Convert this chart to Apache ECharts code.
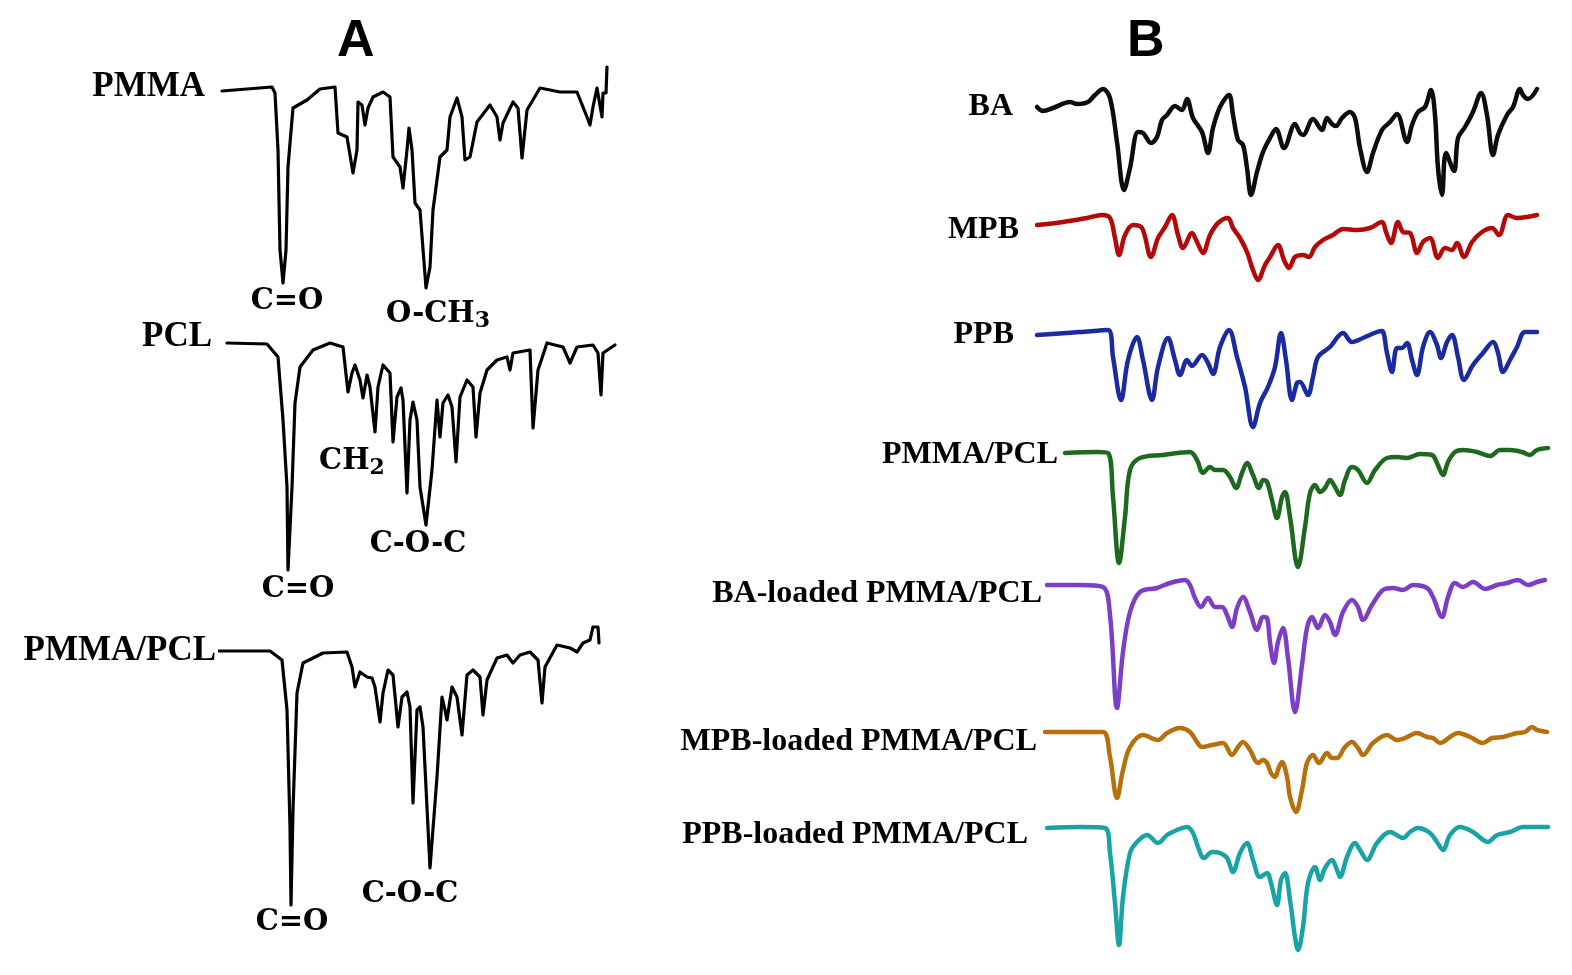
<!DOCTYPE html>
<html>
<head>
<meta charset="utf-8">
<script src="https://cdn.jsdelivr.net/npm/echarts@6/dist/echarts.min.js"></script>
<style>html,body{margin:0;padding:0;background:#fff}#c{width:1572px;height:975px}</style>
</head>
<body>
<div id="c"></div>
<script>
// ---------- DATA (relative position along the spectrum, relative transmittance) ----------
const namesA = ['PMMA', 'PCL', 'PMMA/PCL'];
const namesB = ['BA', 'MPB', 'PPB', 'PMMA/PCL', 'BA-loaded PMMA/PCL', 'MPB-loaded PMMA/PCL', 'PPB-loaded PMMA/PCL'];

const pmmaA = [[2,199],[52,203],[55,197],[58,140],[60,40],[63,7],[66,40],[68,123],[73,182],[87,190],[100,201],[115,203],[117,202],[118,157],[127,153],[133,117],[137,140],[138,188],[142,185],[145,165],[148,182],[153,193],[163,198],[170,193],[173,133],[180,123],[183,102],[187,140],[189,162],[192,140],[195,87],[200,80],[206,2],[210,23],[213,80],[220,133],[227,140],[230,173],[237,192],[242,173],[245,130],[250,133],[257,168],[270,185],[277,173],[280,150],[283,167],[293,188],[298,182],[302,132],[307,180],[320,202],[340,198],[357,198],[367,173],[370,165],[373,183],[377,202],[382,173],[383,197],[386,197],[387,223]];
const pclA = [[7,232],[47,231],[58,218],[63,155],[67,88],[68,5],[72,88],[75,172],[80,208],[93,225],[110,232],[123,228],[128,183],[132,202],[135,210],[140,195],[143,177],[147,200],[150,188],[155,143],[158,188],[163,210],[170,202],[173,133],[177,178],[181,187],[183,175],[187,82],[190,155],[193,173],[197,155],[200,88],[206,50],[212,105],[217,175],[220,138],[223,172],[228,180],[232,168],[236,113],[240,178],[247,195],[253,188],[256,138],[260,182],[267,205],[277,215],[287,218],[290,205],[293,222],[310,225],[313,147],[318,205],[327,232],[343,228],[350,212],[357,228],[373,230],[378,222],[381,180],[383,222],[395,230]];
const blendA = [[-2,259],[50,259],[62,250],[67,200],[70,83],[71,5],[73,100],[77,217],[83,247],[103,257],[127,258],[132,243],[135,223],[140,238],[147,233],[152,232],[155,223],[160,188],[163,217],[168,240],[173,235],[178,183],[182,213],[187,218],[190,203],[193,107],[197,200],[200,203],[203,183],[210,42],[217,133],[222,213],[225,200],[227,190],[232,223],[237,213],[242,175],[247,235],[253,240],[260,233],[263,195],[267,230],[277,252],[287,255],[293,247],[300,255],[310,258],[318,250],[322,207],[325,243],[337,265],[350,262],[357,258],[363,267],[370,270],[373,283],[378,283],[379,267]];

const baB = [[7,93],[13,89],[23,92],[40,98],[47,96],[58,98],[65,105],[73,111],[80,102],[87,58],[94,10],[100,32],[108,68],[113,67],[121,57],[127,63],[132,80],[137,85],[145,94],[152,90],[157,101],[163,82],[172,68],[178,47],[183,72],[190,93],[199,105],[203,85],[208,60],[213,55],[217,32],[221,5],[227,28],[233,48],[240,62],[246,71],[254,52],[265,76],[270,67],[273,65],[283,81],[292,70],[297,82],[302,76],[306,74],[312,82],[320,88],[325,82],[330,52],[337,28],[343,47],[352,70],[360,78],[367,86],[377,58],[382,75],[388,88],[395,93],[401,110],[405,85],[408,32],[412,5],[416,47],[424,29],[428,62],[435,73],[443,88],[451,107],[457,85],[463,45],[468,65],[477,85],[483,93],[490,111],[493,105],[498,101],[507,111]];
const mpbB = [[7,60],[33,63],[57,67],[72,70],[80,67],[85,47],[89,30],[95,50],[103,60],[112,57],[121,28],[128,47],[135,58],[142,70],[148,50],[153,37],[162,52],[167,43],[173,32],[180,50],[188,62],[198,67],[203,57],[210,47],[217,33],[223,15],[228,5],[235,20],[240,28],[248,40],[254,25],[259,17],[265,28],[273,30],[279,28],[285,38],[293,45],[303,50],[313,56],[327,55],[340,57],[352,63],[356,53],[361,42],[368,63],[373,53],[380,52],[387,32],[393,43],[400,47],[408,27],[415,37],[422,35],[427,42],[434,28],[442,43],[452,53],[462,57],[469,50],[478,70],[487,67],[497,68],[507,70]];
const ppbB = [[7,95],[50,98],[78,100],[83,73],[91,30],[98,70],[107,93],[113,70],[122,30],[128,63],[138,92],[145,70],[150,55],[157,70],[162,64],[172,75],[178,67],[183,56],[190,83],[199,100],[207,73],[215,43],[223,3],[230,27],[238,43],[245,63],[251,97],[256,70],[262,30],[267,47],[270,48],[278,35],[283,53],[288,73],[300,83],[313,97],[322,88],[333,92],[347,98],[352,99],[357,77],[362,58],[367,82],[372,82],[377,87],[382,70],[387,55],[393,83],[400,98],[407,85],[411,72],[417,88],[422,95],[428,73],[434,50],[443,65],[453,77],[463,88],[468,77],[473,58],[480,70],[487,83],[495,98],[507,98]];
const blendB = [[35,117],[67,118],[78,117],[83,73],[89,7],[95,53],[100,100],[110,112],[133,115],[160,118],[167,110],[173,97],[180,103],[185,100],[193,100],[200,93],[206,82],[212,97],[217,107],[223,95],[229,82],[233,90],[237,88],[242,70],[247,52],[252,73],[255,78],[260,53],[268,3],[275,43],[280,77],[285,85],[290,78],[295,82],[300,90],[305,83],[310,75],[315,90],[322,103],[328,100],[337,87],[345,100],[357,112],[367,113],[377,112],[390,116],[402,115],[407,107],[413,95],[418,108],[425,118],[433,120],[447,118],[460,114],[470,120],[480,120],[492,118],[500,115],[507,120],[518,122]];
const baLoadedB = [[17,130],[50,130],[73,128],[80,100],[87,7],[93,63],[100,103],[110,123],[127,127],[140,132],[155,135],[160,130],[165,117],[171,108],[178,117],[185,108],[192,108],[197,100],[202,88],[207,107],[213,118],[220,103],[227,85],[233,98],[237,97],[240,73],[244,52],[248,73],[253,87],[258,57],[265,3],[272,50],[277,87],[282,98],[288,87],[295,100],[300,93],[305,80],[313,103],[322,115],[328,108],[333,95],[342,110],[353,125],[363,127],[373,125],[383,130],[397,127],[403,118],[412,98],[418,118],[425,132],[433,128],[443,133],[455,126],[467,130],[477,132],[488,135],[498,130],[507,133],[515,135]];
const mpbLoadedB = [[15,83],[50,83],[73,83],[80,58],[87,17],[93,45],[100,68],[113,80],[128,75],[137,82],[150,87],[160,83],[167,73],[172,68],[182,70],[193,72],[202,60],[208,68],[213,73],[220,65],[228,52],[233,55],[237,52],[241,42],[245,38],[249,48],[252,53],[257,38],[260,18],[266,3],[272,25],[277,52],[283,60],[289,52],[297,62],[302,57],[307,57],[315,68],[322,73],[328,67],[333,60],[343,72],[357,80],[367,75],[375,77],[387,82],[397,78],[403,77],[410,72],[420,78],[428,82],[440,78],[453,72],[462,77],[473,78],[487,82],[495,83],[502,88],[507,85],[517,83]];
const ppbLoadedB = [[17,127],[50,128],[75,127],[80,102],[85,52],[89,10],[93,58],[100,102],[107,113],[117,120],[128,112],[137,120],[147,125],[157,128],[163,122],[168,108],[174,97],[182,103],[190,102],[197,97],[203,83],[210,102],[217,112],[223,95],[230,78],[237,82],[241,72],[247,50],[251,75],[255,82],[260,55],[265,18],[268,5],[273,28],[278,72],[285,88],[290,75],[295,87],[302,95],[307,85],[310,78],[317,98],[325,112],[330,105],[337,95],[347,112],[360,123],[373,117],[380,123],[388,127],[400,122],[407,113],[413,105],[420,120],[430,128],[443,123],[458,113],[467,120],[480,123],[493,128],[507,128],[518,128]];

// peak annotations: [spectrum index in A, data point index of the peak, text]
const peakLabelsA = [
  [0, 5, 'C=O'], [0, 32, 'O-CH{s|3}'],
  [1, 5, 'C=O'], [1, 32, 'C-O-C'], [1, 27, 'CH{s|2}'],
  [2, 5, 'C=O'], [2, 29, 'C-O-C']
];

// ---------- LAYOUT / STYLE ----------
const seriesA = [pmmaA, pclA, blendA];
const seriesB = [baB, mpbB, ppbB, blendB, baLoadedB, mpbLoadedB, ppbLoadedB];
const colorsB = ['#0d0d0d', '#b50808', '#1a2aa0', '#1d6a1f', '#7b3ec6', '#b8700c', '#1aa3a6'];
const gridA = [[60, 230], [335, 240], [620, 290]];
const gridB = [[80, 120], [205, 80], [320, 110], [440, 130], [575, 140], [720, 95], [815, 140]];
const labelAPos = [[205, 87], [212, 337], [216, 651]];
const labelBPos = [[1013, 107], [1019, 230], [1014, 335], [1058, 455], [1042, 594], [1037, 742], [1028, 835]];
// offsets of peak label centres relative to the peak point (px)
const peakOffsets = [[4, 18], [12, 26], [10, 19], [-8, 19], [-55, -32], [1, 17], [-20, 26]];

const grids = [], xAxes = [], yAxes = [], series = [];
function addPanel(dataList, layout, left, width, xmax, colors, lw, smooth, names) {
  dataList.forEach((d, i) => {
    const gi = grids.length;
    grids.push({ left: left, width: width, top: layout[i][0], height: layout[i][1], show: false });
    xAxes.push({ type: 'value', gridIndex: gi, min: 0, max: xmax, show: false });
    yAxes.push({ type: 'value', gridIndex: gi, min: 0, max: layout[i][1], show: false });
    series.push({
      type: 'line', name: names[i], xAxisIndex: gi, yAxisIndex: gi, data: d,
      showSymbol: false, symbol: 'none', smooth: smooth, clip: false,
      lineStyle: { color: colors[i], width: lw, cap: 'round', join: 'round' },
      emphasis: { disabled: true }
    });
  });
}
addPanel(seriesA, gridA, 220, 400, 400, ['#000', '#000', '#000'], 3.2, false, namesA);
addPanel(seriesB, gridB, 1030, 520, 520, colorsB, 4.5, 0.35, namesB);

// peak annotations as markPoints on panel A series
peakLabelsA.forEach((p, k) => {
  const s = series[p[0]];
  if (!s.markPoint) s.markPoint = { symbol: 'rect', symbolSize: 1, itemStyle: { color: 'rgba(0,0,0,0)' }, silent: true, animation: false, data: [] };
  const pt = s.data[p[1]];
  s.markPoint.data.push({
    coord: pt,
    label: {
      show: true, position: 'inside', offset: peakOffsets[k],
      formatter: p[2], color: '#000',
      fontFamily: 'DejaVu Serif', fontWeight: 'bold', fontSize: 29,
      rich: { s: { fontFamily: 'DejaVu Serif', fontWeight: 'bold', fontSize: 22, verticalAlign: 'bottom', padding: [14, 0, 0, 0] } }
    }
  });
});

const graphics = [];
graphics.push({ type: 'text', left: 337, top: 16, style: { text: 'A', font: 'bold 52px "Liberation Sans", Arial, sans-serif', fill: '#000' } });
graphics.push({ type: 'text', left: 1127, top: 16, style: { text: 'B', font: 'bold 52px "Liberation Sans", Arial, sans-serif', fill: '#000' } });
namesA.forEach((n, i) => graphics.push({ type: 'text', x: labelAPos[i][0], y: labelAPos[i][1],
  style: { text: n, font: 'bold 35px "Liberation Serif", "Times New Roman", serif', fill: '#000', align: 'right', verticalAlign: 'middle' } }));
namesB.forEach((n, i) => graphics.push({ type: 'text', x: labelBPos[i][0], y: labelBPos[i][1],
  style: { text: n, font: 'bold 32px "Liberation Serif", "Times New Roman", serif', fill: '#000', align: 'right', verticalAlign: 'middle' } }));

const chart = echarts.init(document.getElementById('c'), null, { renderer: 'canvas' });
chart.setOption({
  animation: false,
  backgroundColor: '#fff',
  grid: grids, xAxis: xAxes, yAxis: yAxes, series: series,
  graphic: graphics
});
</script>
</body>
</html>
